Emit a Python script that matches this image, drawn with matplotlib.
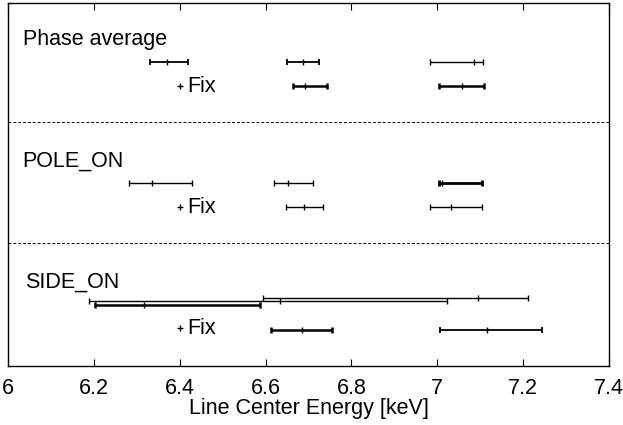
import matplotlib
matplotlib.use("Agg")
import matplotlib.pyplot as plt

plt.rcParams['font.family'] = ['Liberation Sans', 'DejaVu Sans']

panels = ["Phase average", "POLE_ON", "SIDE_ON"]

pa_low    = [6.331, 6.651, 6.983, 6.663, 7.004]
pa_center = [6.370, 6.688, 7.086, 6.693, 7.058]
pa_high   = [6.420, 6.724, 7.107, 6.744, 7.109]
pa_row    = [0, 0, 0, 1, 1]

po_low    = [6.282, 6.620, 7.004, 6.647, 6.983]
po_center = [6.336, 6.653, 7.010, 6.689, 7.032]
po_high   = [6.428, 6.711, 7.104, 6.733, 7.103]
po_row    = [0, 0, 0, 1, 1]

so_low    = [6.189, 6.203, 6.594, 6.612, 7.006]
so_center = [6.634, 6.316, 7.096, 6.684, 7.115]
so_high   = [7.022, 6.587, 7.212, 6.754, 7.243]
so_row    = [0, 0, 0, 1, 1]

fix_energy = 6.4
xticks = [6, 6.2, 6.4, 6.6, 6.8, 7, 7.2, 7.4]
xticklabels = ["6", "6.2", "6.4", "6.6", "6.8", "7", "7.2", "7.4"]

# layout (vertical positions, line widths)
panel_base = [2.0, 1.0, 0.0]
row_y = {0: 0.50, 1: 0.295}
pa_dy = [0, 0, 0, 0, 0]
po_dy = [0, 0, 0, 0, 0]
so_dy = [0.022, -0.011, 0.047, -0.01, -0.01]
pa_lw = [1.3, 1.3, 1.0, 1.8, 1.8]
po_lw = [1.0, 1.0, 2.0, 1.0, 1.0]
so_lw = [1.0, 1.8, 1.0, 1.8, 1.3]
FS = 15.5

fig = plt.figure(figsize=(6.23, 4.25), dpi=100)
ax = fig.add_axes([8/623, 1-366/425, (609-8)/623, 363/425])

def draw(base, low, cen, high, rows, dy, lws):
    for l, c, h, r, d, lw in zip(low, cen, high, rows, dy, lws):
        y = base + row_y[r] + d
        ax.errorbar([c], [y], xerr=[[c - l], [h - c]], fmt='none', ecolor='black',
                    elinewidth=lw, capsize=2.5, capthick=lw)
        ax.plot([c], [y], marker='|', color='black', markersize=5, mew=1.0)

draw(panel_base[0], pa_low, pa_center, pa_high, pa_row, pa_dy, pa_lw)
draw(panel_base[1], po_low, po_center, po_high, po_row, po_dy, po_lw)
draw(panel_base[2], so_low, so_center, so_high, so_row, so_dy, so_lw)

label_dx = [0.034, 0.034, 0.04]
for name, base, dx in zip(panels, panel_base, label_dx):
    ax.text(6 + dx, base + 0.68, name, fontsize=FS, va='center', ha='left')
    ax.plot([fix_energy], [base + row_y[1]], marker='+', color='black', markersize=5, mew=1.0)
    ax.text(fix_energy + 0.018, base + row_y[1], "Fix", fontsize=FS, va='center', ha='left')

for b in [1.0, 2.0]:
    ax.axhline(b, color='black', linestyle=(0, (3, 2)), linewidth=0.7)

ax.set_xlim(6, 7.4)
ax.set_ylim(-0.015, 2.985)
ax.set_xticks(xticks)
ax.set_xticklabels(xticklabels, fontsize=FS)
ax.set_yticks([])
ax.tick_params(axis='x', direction='in', top=True, length=5, width=0.8, pad=9)
ax.set_xlabel("Line Center Energy [keV]", fontsize=FS, labelpad=-1)
for s in ax.spines.values():
    s.set_linewidth(1.0)

fig.savefig("out.png", dpi=100)
